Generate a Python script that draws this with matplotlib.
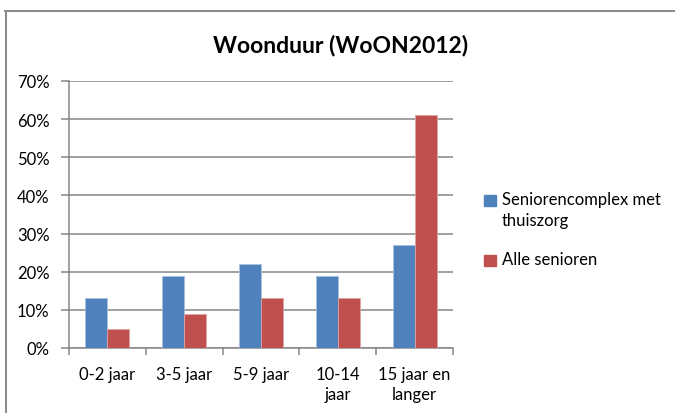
import matplotlib
matplotlib.use('Agg')
import matplotlib.pyplot as plt
from matplotlib.patches import Rectangle
from matplotlib.lines import Line2D
import numpy as np

plt.rcParams['font.family'] = ['Lato', 'DejaVu Sans']

categories = ['0-2 jaar', '3-5 jaar', '5-9 jaar', '10-14\njaar', '15 jaar en\nlanger']
senioren_complex = [13, 19, 22, 19, 27]
alle_senioren = [5, 9, 13, 13, 61]
series_names = ['Seniorencomplex met\nthuiszorg', 'Alle senioren']
blue = '#4F81BD'
red = '#C0504D'
grid_col = '#868686'

fig = plt.figure(figsize=(6.75, 4.14), dpi=100)
ax = fig.add_axes([69 / 675, 1 - 349 / 414, (453 - 69) / 675, (349 - 82) / 414])

x = np.arange(len(categories))
w = 1 / 3.5
ax.bar(x - w / 2, senioren_complex, w, color=blue, edgecolor='#A7C0DE', linewidth=0.6, zorder=3)
ax.bar(x + w / 2, alle_senioren, w, color=red, edgecolor='#DDA3A1', linewidth=0.6, zorder=3)

ax.set_xlim(-0.5, len(categories) - 0.5)
ax.set_ylim(0, 70)
ax.set_yticks(range(0, 71, 10))
ax.set_yticklabels([f'{v}%' for v in range(0, 71, 10)], fontsize=12)
ax.yaxis.grid(True, color=grid_col, linewidth=1.1, zorder=0)
ax.tick_params(axis='y', length=6, width=1.1, color=grid_col, pad=8)

ax.set_xticks(x)
ax.set_xticklabels(categories, fontsize=12, linespacing=1.3)
ax.set_xticks(np.arange(-0.5, len(categories)), minor=True)
ax.tick_params(axis='x', which='major', length=0, pad=13)
ax.tick_params(axis='x', which='minor', length=5, width=1.1, color=grid_col)

for s in ['top', 'right']:
    ax.spines[s].set_visible(False)
for s in ['left', 'bottom']:
    ax.spines[s].set_color(grid_col)
    ax.spines[s].set_linewidth(1.1)

fig.text(341 / 675, 1 - 45 / 414, 'Woonduur (WoON2012)', ha='center', va='center',
         fontsize=16.5, fontweight='bold')

# legend
leg_y = [201, 261]
for col, name, yy in zip([blue, red], series_names, leg_y):
    fig.patches.append(Rectangle((484 / 675, 1 - (yy + 6) / 414), 12 / 675, 11 / 414,
                                 transform=fig.transFigure, color=col, figure=fig))
    fig.text(502 / 675, 1 - (yy - 9) / 414, name, ha='left', va='top', fontsize=12,
             linespacing=1.4)

# chart frame
fig.lines.append(Line2D([5 / 675, 1], [1 - 12 / 414, 1 - 12 / 414], transform=fig.transFigure,
                        color='#8C8C8C', linewidth=1.5))
fig.lines.append(Line2D([6 / 675, 6 / 675], [0, 1 - 12 / 414], transform=fig.transFigure,
                        color='#8C8C8C', linewidth=1.5))

fig.savefig('out.png', dpi=100)
